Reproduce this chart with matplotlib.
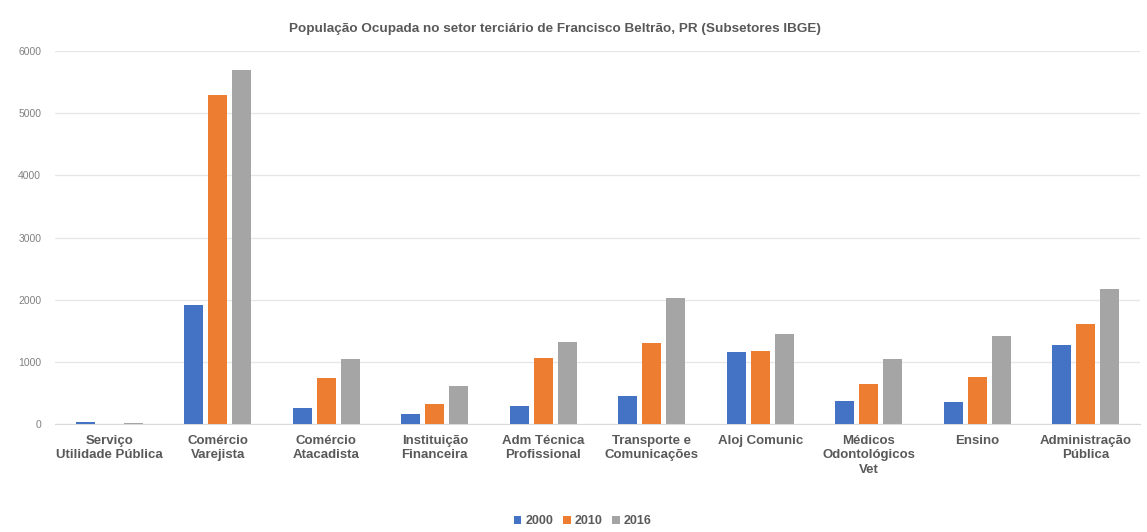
import numpy as np
import matplotlib
matplotlib.use("Agg")
import matplotlib.pyplot as plt

plt.rcParams['font.family'] = ['Liberation Sans', 'DejaVu Sans']

# Dados
categorias = ["Serviço\nUtilidade Pública", "Comércio\nVarejista", "Comércio\nAtacadista",
              "Instituição\nFinanceira", "Adm Técnica\nProfissional", "Transporte e\nComunicações",
              "Aloj Comunic", "Médicos\nOdontológicos\nVet", "Ensino", "Administração\nPública"]
anos = ["2000", "2010", "2016"]
v2000 = [25, 1920, 250, 160, 290, 450, 1155, 375, 350, 1275]
v2010 = [0, 5300, 745, 320, 1065, 1300, 1180, 640, 760, 1610]
v2016 = [10, 5690, 1040, 610, 1325, 2035, 1450, 1040, 1420, 2175]
yticks = [0, 1000, 2000, 3000, 4000, 5000, 6000]

cores = ["#4472C4", "#ED7D31", "#A5A5A5"]
texto = "#595959"

fig = plt.figure(figsize=(11.47, 5.32), dpi=100)
ax = fig.add_axes([0.048, 0.203, 0.946, 0.701])

x = np.arange(len(categorias))
w = 0.175
for i, (serie, cor, ano) in enumerate(zip([v2000, v2010, v2016], cores, anos)):
    ax.bar(x + (i - 1) * 0.22, serie, width=w, color=cor, label=ano, zorder=3)

ax.set_xlim(-0.5, len(categorias) - 0.5)
ax.set_ylim(0, 6000)
ax.set_yticks(yticks)
ax.set_yticklabels([str(t) for t in yticks], fontsize=7.5, color="#808080")
ax.set_xticks(x)
ax.set_xticklabels(categorias, fontsize=9.5, fontweight="bold", color=texto, linespacing=1.25)
ax.tick_params(axis="both", length=0)
ax.tick_params(axis="x", pad=8)
ax.tick_params(axis="y", pad=10)
ax.grid(axis="y", color="#E6E6E6", linewidth=0.9, zorder=0)
for s in ["top", "right", "left"]:
    ax.spines[s].set_visible(False)
ax.spines["bottom"].set_color("#D9D9D9")

fig.text(0.484, 0.945, "População Ocupada no setor terciário de Francisco Beltrão, PR (Subsetores IBGE)",
         ha="center", va="center", fontsize=9.7, fontweight="bold", color=texto)

leg = fig.legend(loc="center", bbox_to_anchor=(0.508, 0.02), ncol=3, frameon=False,
                 fontsize=9, handlelength=0.6, handleheight=0.6, handletextpad=0.3,
                 columnspacing=0.8)
for t in leg.get_texts():
    t.set_color(texto)
    t.set_fontweight("bold")

fig.savefig("out.png", dpi=100)
